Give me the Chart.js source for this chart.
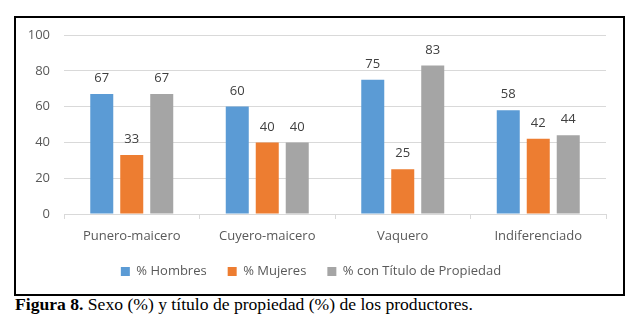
<!DOCTYPE html>
<html>
<head>
<meta charset="utf-8">
<script src="https://cdn.jsdelivr.net/npm/chart.js@4"></script>
<style>
  body { margin: 0; background: #fff; }
  #box {
    position: absolute; left: 14px; top: 16px;
    width: 607px; height: 276px;
    border: 2px solid #000;
  }
  #caption {
    position: absolute; left: 15px; top: 294px;
    font-family: "Liberation Serif", "Times New Roman", serif;
    font-size: 17.6px; line-height: 20px; color: #000; white-space: nowrap;
  }
</style>
</head>
<body>
<div id="box"><canvas id="chart"></canvas></div>
<div id="caption"><b>Figura 8.</b> Sexo (%) y título de propiedad (%) de los productores.</div>
<script>
const categories = ['Punero-maicero', 'Cuyero-maicero', 'Vaquero', 'Indiferenciado'];
const hombres = [67, 60, 75, 58];
const mujeres = [33, 40, 25, 42];
const titulo = [67, 40, 83, 44];
const yTicks = [0, 20, 40, 60, 80, 100];

const font = "'Open Sans', sans-serif";

// value labels over each bar
const barLabels = {
  id: 'barLabels',
  afterDatasetsDraw(chart) {
    const ctx = chart.ctx;
    ctx.save();
    ctx.font = '13px ' + font;
    ctx.fillStyle = '#404040';
    ctx.textAlign = 'center';
    ctx.textBaseline = 'bottom';
    chart.data.datasets.forEach((ds, i) => {
      chart.getDatasetMeta(i).data.forEach((bar, j) => {
        ctx.fillText(ds.data[j], bar.x, bar.y - 9);
      });
    });
    ctx.restore();
  }
};

// keep the legend short so it sits where the original one is
const legendHeight = {
  id: 'legendHeight',
  afterInit(chart) {
    const lg = chart.legend;
    const fit = lg.fit;
    lg.fit = function () { fit.call(this); this.height = 50; };
  }
};

new Chart(document.getElementById('chart'), {
  type: 'bar',
  data: {
    labels: categories,
    datasets: [
      { label: '% Hombres', data: hombres, backgroundColor: '#5b9bd5' },
      { label: '% Mujeres', data: mujeres, backgroundColor: '#ed7d31' },
      { label: '% con Título de Propiedad', data: titulo, backgroundColor: '#a5a5a5' }
    ]
  },
  options: {
    responsive: true,
    maintainAspectRatio: false,
    animation: false,
    datasets: { bar: { categoryPercentage: 0.664, barPercentage: 0.767 } },
    layout: { padding: { top: 17, right: 17, bottom: 0, left: 0 } },
    plugins: {
      tooltip: { enabled: false },
      legend: {
        position: 'bottom',
        labels: {
          boxWidth: 9, boxHeight: 9, padding: 21,
          color: '#595959', font: { family: font, size: 13 }
        }
      }
    },
    scales: {
      x: {
        grid: { drawOnChartArea: false, drawTicks: true, tickLength: 5, color: '#d9d9d9' },
        border: { color: '#d9d9d9' },
        ticks: { color: '#595959', font: { family: font, size: 13 }, padding: 9 },
        afterFit(scale) { scale.height = 30; }
      },
      y: {
        min: 0, max: 100,
        afterBuildTicks(scale) { scale.ticks = yTicks.map(v => ({ value: v })); },
        // invisible tick marks give the label gap without padding the top
        grid: { color: '#d9d9d9', drawTicks: true, tickLength: 14, tickColor: 'rgba(0,0,0,0)' },
        border: { display: false },
        ticks: { color: '#595959', font: { family: font, size: 13 }, padding: 0 },
        afterFit(scale) { scale.width = 48; }
      }
    }
  },
  plugins: [barLabels, legendHeight]
});
</script>
</body>
</html>
